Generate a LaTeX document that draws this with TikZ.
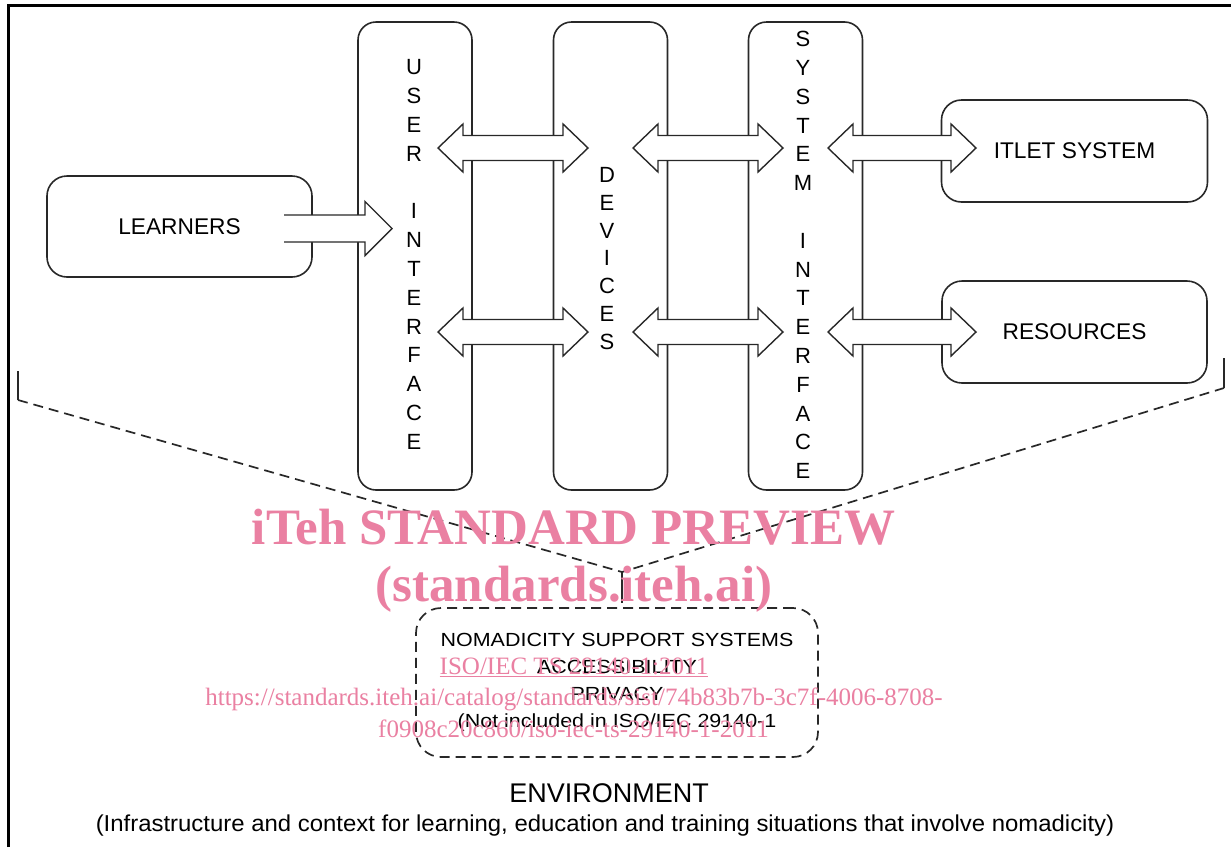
\documentclass[tikz,border=0pt]{standalone}
\usepackage{fontspec}
\setmainfont{Liberation Sans}
\newfontfamily\wmfont{Liberation Serif}
\usetikzlibrary{calc}
\definecolor{ink}{RGB}{40,40,40}
\definecolor{wm}{RGB}{234,128,162}
\newcommand{\fs}[2]{\fontsize{#1}{#2}\selectfont}
\newcommand{\wide}[1]{\scalebox{1.13}[1]{#1}}
\newcommand{\dblarrow}[2]{%
  \path[blk] (#1) -- ++(25,-24) -- ++(0,11.5) -- ($(#2)+(-25,-12.5)$) -- ++(0,-11.5) -- (#2)
    -- ++(-25,24) -- ++(0,-11.5) -- ($(#1)+(25,12.5)$) -- ++(0,11.5) -- cycle;}
\begin{document}
\begin{tikzpicture}[x=1pt,y=-1pt,
  box/.style={draw=ink, line width=1.6pt, rounded corners=20pt, inner sep=0pt},
  col/.style={box, rounded corners=18pt, minimum width=114pt, minimum height=468pt},
  lbl/.style={font=\fs{22.7}{27}},
  coltext/.style={align=center, inner sep=0pt, font=\fs{22}{28.8}},
  blk/.style={draw=ink, line width=1.4pt, fill=white, line join=miter},
  brace/.style={draw=ink, line width=1.6pt},
  dsh/.style={draw=ink, line width=1.7pt, dash pattern=on 10pt off 6pt},
  wmtext/.style={text=wm, inner sep=0pt, anchor=base}
]
\useasboundingbox (0,0) rectangle (1231,847);
\fill[white] (0,0) rectangle (1231,847);
% outer frame
\draw[line width=3pt, black] (8,847) -- (8,5) -- (1231,5);

% boxes
\node[box, minimum width=265pt, minimum height=101pt, lbl] (learners) at (179.5,226.5) {LEARNERS};
\node[col] (ui) at (415,256) {};
\node[col] (dev) at (610.5,256) {};
\node[col] (si) at (805.5,256) {};
\node[box, minimum width=266pt, minimum height=102pt, lbl] (itlet) at (1074.5,151) {ITLET SYSTEM};
\node[box, minimum width=265pt, minimum height=102pt, lbl] (res) at (1074.5,332) {RESOURCES};

% arrow end points
\coordinate (l1) at (284,228.5);
\coordinate (l2) at (392,228.5);
\coordinate (a1l) at (438,148);  \coordinate (a1r) at (588,148);
\coordinate (a2l) at (438,332);  \coordinate (a2r) at (588,332);
\coordinate (b1l) at (633,148);  \coordinate (b1r) at (783,148);
\coordinate (b2l) at (633,332);  \coordinate (b2r) at (783,332);
\coordinate (c1l) at (828,148);  \coordinate (c1r) at (976,148);
\coordinate (c2l) at (828,332);  \coordinate (c2r) at (976,332);

% single arrow learners -> user interface
\fill[white] ($(l1)+(0,-13.5)$) -- ($(l2)+(-27,-13.5)$) -- ++(0,-13.5) -- (l2) -- ++(-27,27) -- ++(0,-13.5) -- ($(l1)+(0,13.5)$) -- cycle;
\draw[draw=ink, line width=1.4pt, line join=miter] ($(l1)+(0,-13.5)$) -- ($(l2)+(-27,-13.5)$) -- ++(0,-13.5) -- (l2) -- ++(-27,27) -- ++(0,-13.5) -- ($(l1)+(0,13.5)$);

% double arrows
\dblarrow{a1l}{a1r}
\dblarrow{a2l}{a2r}
\dblarrow{b1l}{b1r}
\dblarrow{b2l}{b2r}
\dblarrow{c1l}{c1r}
\dblarrow{c2l}{c2r}

% column texts
\node[coltext] (uitext) at (414,254.5) {U\\S\\E\\R\\[28.8pt]I\\N\\T\\E\\R\\F\\A\\C\\E};
\node[coltext, font=\fs{22}{27.9}] (devtext) at (607,258.5) {D\\E\\V\\I\\C\\E\\S};
\node[coltext] (sitext) at (803,255) {S\\Y\\S\\T\\E\\M\\[28.8pt]I\\N\\T\\E\\R\\F\\A\\C\\E};

% brace lines
\coordinate (bl0) at (18,371); \coordinate (bl1) at (18,400);
\coordinate (br0) at (1224,358); \coordinate (br1) at (1224,388);
\coordinate (apex) at (622,572); \coordinate (stem) at (622,603);
\draw[brace] (bl0) -- (bl1);
\draw[brace] (br0) -- (br1);
\draw[dsh] (bl1) -- (apex) -- (br1);
\draw[brace] (apex) -- (stem);

% nomadicity box
\node[dsh, rounded corners=25pt, minimum width=402pt, minimum height=149pt, align=center, font=\fs{19}{27}, inner sep=0pt] (nss) at (617,682.5)
 {\wide{NOMADICITY SUPPORT SYSTEMS}\\\wide{ACCESSIBILITY}\\\wide{PRIVACY}\\\wide{(Not included in ISO/IEC 29140-1}};

% environment
\node[font=\fs{27}{30}, inner sep=0pt] (env) at (609,793) {ENVIRONMENT};
\node[font=\fs{23}{26}, inner sep=0pt] (envsub) at (605,826) {\scalebox{1.04}[1]{(Infrastructure and context for learning, education and training situations that involve nomadicity)}};

% watermark
\node[wmtext, font=\wmfont\bfseries\fs{51}{51}] (wm1) at (573.5,544) {iTeh STANDARD PREVIEW};
\node[wmtext, font=\wmfont\bfseries\fs{51}{51}] (wm2) at (574,601) {(standards.iteh.ai)};
\node[wmtext, font=\wmfont\fs{25}{25}] (wm3) at (574,674) {\underline{ISO/IEC TS 29140-1:2011}};
\node[wmtext, font=\wmfont\fs{25}{25}] (wm4) at (574,705) {https://standards.iteh.ai/catalog/standards/sist/74b83b7b-3c7f-4006-8708-};
\node[wmtext, font=\wmfont\fs{25}{25}] (wm5) at (573.5,737) {f0908c20c860/iso-iec-ts-29140-1-2011};
\end{tikzpicture}
\end{document}
